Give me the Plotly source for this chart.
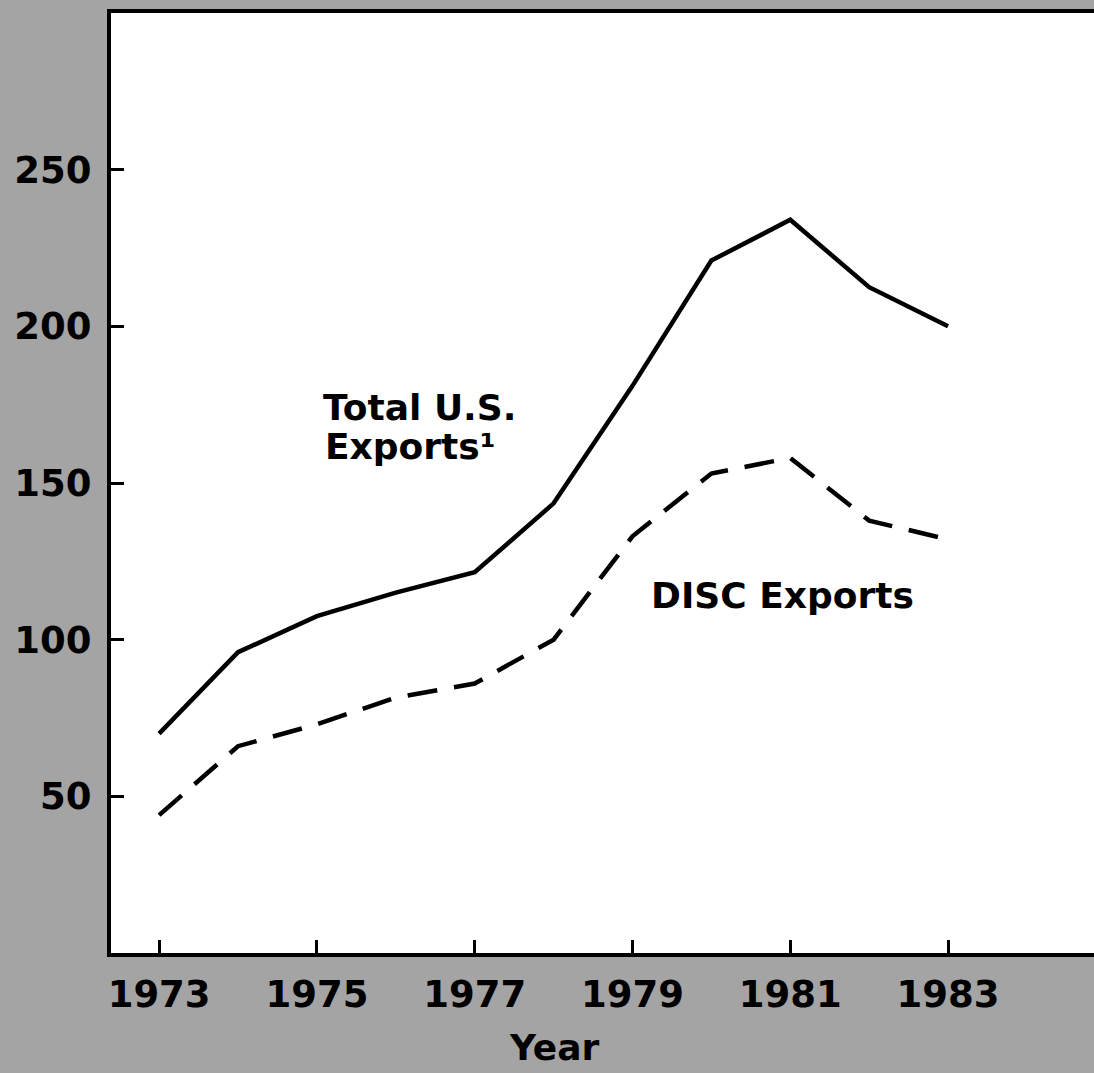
import plotly.graph_objects as go

years = [1973, 1974, 1975, 1976, 1977, 1978, 1979, 1980, 1981, 1982, 1983]
total_exports = [70, 96, 107.5, 115, 121.5, 143.5, 181, 221, 234, 212.5, 200]
disc_exports = [44, 66, 73, 81.5, 86, 100, 133, 153, 158, 138, 132]

y_ticks = [50, 100, 150, 200, 250]
x_ticks = [1973, 1975, 1977, 1979, 1981, 1983]

FONT = "DejaVu Sans"

fig = go.Figure()
fig.add_trace(go.Scatter(x=years, y=total_exports, mode="lines",
                         line=dict(color="black", width=4.5),
                         name="Total U.S. Exports", showlegend=False,
                         hoverinfo="skip"))
fig.add_trace(go.Scatter(x=years, y=disc_exports, mode="lines",
                         line=dict(color="black", width=4.5, dash="30px,17px"),
                         name="DISC Exports", showlegend=False,
                         hoverinfo="skip"))

fig.update_layout(
    width=1094, height=1073,
    margin=dict(l=111, r=0, t=13, b=120),
    paper_bgcolor="#a4a4a4",
    plot_bgcolor="white",
    font=dict(family=FONT, color="black"),
    xaxis=dict(range=[1972.39, 1984.85], tickvals=x_ticks,
               ticktext=[str(v) for v in x_ticks],
               showgrid=False, zeroline=False,
               showline=True, linecolor="black", linewidth=4, mirror=True,
               ticks="inside", ticklen=13, tickwidth=3, tickcolor="black",
               ticklabelstandoff=6,
               tickfont=dict(family=FONT, size=37, weight=900, color="black")),
    yaxis=dict(range=[0, 300], tickvals=y_ticks,
               ticktext=[str(v) for v in y_ticks],
               showgrid=False, zeroline=False,
               showline=True, linecolor="black", linewidth=4,
               ticks="inside", ticklen=13, tickwidth=3, tickcolor="black",
               ticklabelstandoff=8,
               tickfont=dict(family=FONT, size=37, weight=900, color="black")),
)

label_font = dict(family=FONT, size=36, weight=900, color="black")
fig.add_annotation(x=1975.05, y=174, xref="x", yref="y",
                   text="Total U.S.", showarrow=False,
                   xanchor="left", yanchor="middle", font=label_font)
fig.add_annotation(x=1975.08, y=161.5, xref="x", yref="y",
                   text="Exports\u00b9", showarrow=False,
                   xanchor="left", yanchor="middle", font=label_font)
fig.add_annotation(x=1980.9, y=114, xref="x", yref="y",
                   text="DISC Exports", showarrow=False,
                   xanchor="center", yanchor="middle", font=label_font)
fig.add_annotation(x=1978, y=-0.1, xref="x", yref="paper",
                   text="Year", showarrow=False, yanchor="middle",
                   font=dict(family=FONT, size=36, weight=900, color="black"))

fig.write_html("out.html", config={"displayModeBar": False},
               post_script="document.body.style.margin='0';document.body.style.padding='0';")
